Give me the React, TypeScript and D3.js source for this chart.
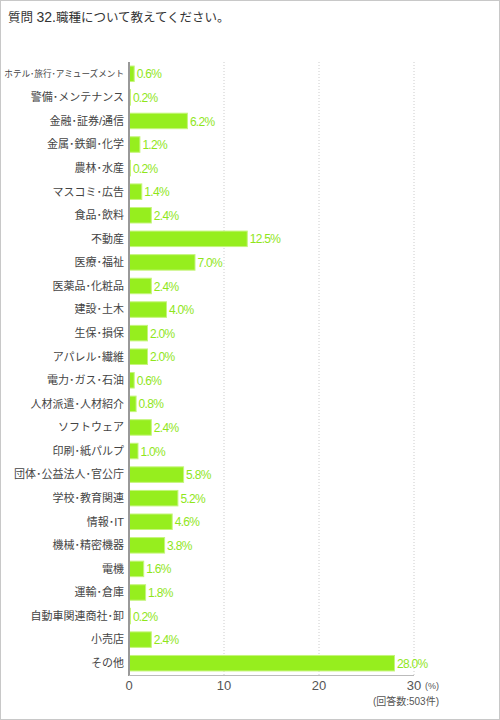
import React, {useEffect} from 'react'
import * as d3 from 'd3'

const categories = [
  'ホテル･旅行･アミューズメント',
  '警備･メンテナンス',
  '金融･証券/通信',
  '金属･鉄鋼･化学',
  '農林･水産',
  'マスコミ･広告',
  '食品･飲料',
  '不動産',
  '医療･福祉',
  '医薬品･化粧品',
  '建設･土木',
  '生保･損保',
  'アパレル･繊維',
  '電力･ガス･石油',
  '人材派遣･人材紹介',
  'ソフトウェア',
  '印刷･紙パルプ',
  '団体･公益法人･官公庁',
  '学校･教育関連',
  '情報･IT',
  '機械･精密機器',
  '電機',
  '運輸･倉庫',
  '自動車関連商社･卸',
  '小売店',
  'その他',
]
const values = [
  0.6, 0.2, 6.2, 1.2, 0.2, 1.4, 2.4, 12.5, 7.0, 2.4, 4.0, 2.0, 2.0, 0.6, 0.8, 2.4, 1.0, 5.8, 5.2, 4.6, 3.8,
  1.6, 1.8, 0.2, 2.4, 28.0,
]
const xTicks = [0, 10, 20, 30]

const font = '"Liberation Sans", Arial, "Noto Sans CJK JP", sans-serif'

export default function App() {
  useEffect(() => {
    document.body.style.margin = '0'
  }, [])

  const x = d3.scaleLinear().domain([0, 30]).range([129, 414])
  const y = d3.scaleBand<string>().domain(categories).range([62, 675]).paddingInner(0.3).paddingOuter(0.15)

  return (
    <svg width={500} height={720} style={{display: 'block', background: '#fff'}} fontFamily={font}>
      <rect x={0.5} y={0.5} width={499} height={719} fill="#fff" stroke="#c8c8c8" />
      <text x={8} y={22} fontSize={12.5} fill="#333">
        質問 <tspan fontSize={14}>32.</tspan>職種について教えてください。
      </text>

      {/* grid */}
      {xTicks.slice(1).map((t) => (
        <line key={t} x1={x(t)} x2={x(t)} y1={62} y2={675} stroke="#ccc" strokeDasharray="1,2" />
      ))}

      {/* bars */}
      {categories.map((c, i) => {
        const w = x(values[i]) - x(0)
        const yy = y(c)!
        const cy = yy + y.bandwidth() / 2
        const long = c.length > 12
        return (
          <g key={c}>
            <text x={124} y={cy} dy="0.35em" textAnchor="end" fontSize={long ? 8.6 : 11} fill="#444">
              {c}
            </text>
            <rect x={x(0) + 0.5} y={yy + 0.5} width={Math.max(w - 1, 1)} height={y.bandwidth() - 1} fill="#96ee1e" stroke="#c5f57c" />
            <text x={x(values[i]) + 2} y={cy} dy="0.38em" fontSize={12} fill="#8fe61b" letterSpacing={-0.7}>
              {values[i].toFixed(1)}%
            </text>
          </g>
        )
      })}

      {/* axes */}
      <line x1={x(0)} x2={x(0)} y1={62} y2={676} stroke="#999" strokeWidth={2} />
      <line x1={x(0)} x2={x(30)} y1={675.5} y2={675.5} stroke="#bbb" />
      {xTicks.map((t) => (
        <text key={t} x={x(t)} y={690} textAnchor="middle" fontSize={13} fill="#555">
          {t}
        </text>
      ))}
      <text x={425} y={689} fontSize={9} fill="#555">
        (%)
      </text>
      <text x={439} y={705} textAnchor="end" fontSize={10} fill="#555">
        (回答数:503件)
      </text>
    </svg>
  )
}
